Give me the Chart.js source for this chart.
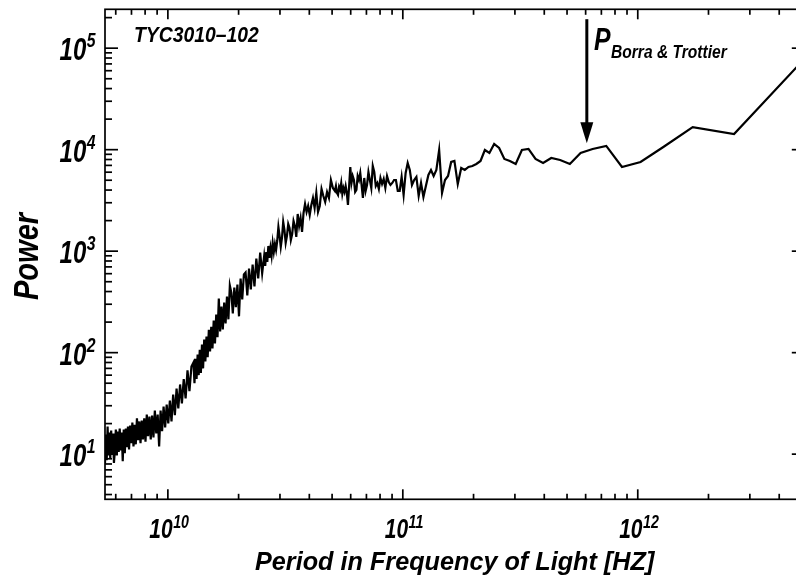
<!DOCTYPE html>
<html>
<head>
<meta charset="utf-8">
<script src="https://cdn.jsdelivr.net/npm/chart.js@4.4.1/dist/chart.umd.min.js"></script>
<style>
html,body{margin:0;padding:0;background:#fff;overflow:hidden;width:796px;height:579px}
#wrap{position:absolute;left:0;top:0;width:810px;height:579px}
</style>
</head>
<body>
<div id="wrap"><canvas id="c" width="810" height="579"></canvas></div>
<script>
// ---- data ----
const fundamentalHz = 5.14e12;            // frequency of harmonic 1 (right end of the axis)
const harmonicIndex = [
1,2,3,4,5,6,7,8,9,10,11,12,13,14,15,16,17,18,19,20,
21,22,23,24,25,26,27,28,29,30,31,32,33,34,35,36,37,38,39,40,
41,42,43,44,45,46,47,48,49,50,51,52,53,54,55,56,57,58,59,60,
61,62,63,64,65,66,67,68,69,70,71,72,73,74,75,76,77,78,79,80,
81,82,83,84,85,86,87,88,89,90,91,92,93,94,95,96,97,98,99,100,
102,104,106,108,110,112,114,116,118,120,122,124,126,128,130,132,134,136,138,140,
142,144,146,148,150,152,154,156,158,160,162,164,166,168,170,172,174,176,178,180,
182,184,186,188,190,192,194,196,198,200,
204,208,212,216,220,224,228,232,236,240,244,248,252,256,260,264,268,272,276,280,
284,288,292,296,300,304,308,312,316,320,324,328,332,336,340,344,348,352,356,360,
364,368,372,376,380,384,388,392,396,400,
408,416,424,432,440,448,456,464,472,480,488,496,504,512,520,528,536,544,552,560,
568,576,584,592,600,608,616,624,632,640,648,656,664,672,680,688,696,704,712,720,
728,736,744,752,760,768,776,784,792,800,808,816,824,832,840,848,856,864,872,880,
888,896,904,912,920,928,936,944,952];
const power = [
79300,14280,16700,10630,7565,6755,10880,10160,9280,7230,7915,8280,7395,8100,10160,9930,7230,7740,8100,10390,
11380,9280,9930,7740,7230,6910,6755,6310,6600,4592,7740,7565,5508,5028,3745,9930,6310,5508,6310,5635,
4388,3420,4698,3498,5383,5028,4489,6310,7395,5895,3578,5383,3918,3918,5028,5028,4698,4489,4806,5508,
4193,5144,4592,5262,4099,4698,4388,6030,6910,4193,5028,6030,4489,3918,5262,3343,4489,5895,5028,5508,
4009,3831,5028,5508,4698,6755,4388,2852,3745,4388,3831,4193,3661,4698,4009,4290,3578,3745,4388,3918,
4193,5028,3343,3831,3053,3498,4099,2788,2434,3745,2665,3343,2852,2274,2788,2434,2918,2379,1546,2124,
1772,2326,1380,1772,1985,1477,1289,1693,1854,1412,1204,1618,1940,1349,1100,1412,1731,1260,1027,1177,
982,1204,897,1075,857,1125,783,982,715,897,
605,969,540,846,450,738,420,674,367,616,589,335,537,228,469,280,438,244,391,458,
213,357,194,312,169,285,162,341,142,238,123,207,110,180,103,168,90,144,82,135,
70,120,63,107,60,96,55,87,50,80,
73,41.7,67,35.5,55,31.7,48.6,28.2,44.3,24.2,38.7,21.0,33.7,20.1,30.8,18.3,29.5,16.8,26.9,11.9,
24.5,16.0,26.9,14.6,24.0,14.0,23.4,15.0,24.5,13.3,22.5,14.0,21.4,12.8,21.0,13.7,22.5,12.5,19.5,11.9,
20.5,12.8,19.1,11.1,18.7,11.7,17.9,10.2,17.5,8.5,16.3,10.9,17.9,10.5,16.7,9.7,17.5,10.9,8.2,16.0,
10.0,17.1,9.1,16.3,9.7,18.7,8.7,15.6,8.1];
const xTickExponents = [10, 11, 12];
const yTickExponents = [1, 2, 3, 4, 5];
const xRange = [5.4e9, 5.14e12];
const yRange = [3.59, 2.416e5];
const starLabel = 'TYC3010\u2013102';
const markerLabel = 'P';
const markerSubLabel = 'Borra & Trottier';
const markerFreqHz = 6.07e11;
const markerTopPower = 1.93e5;
const markerTipPower = 1.16e4;
const markerHeadBasePower = 1.86e4;
const xTitle = 'Period in Frequency of Light [HZ]';
const yTitle = 'Power';

// ---- build ----
const points = harmonicIndex.map((n, i) => ({ x: fundamentalHz / n, y: power[i] })).reverse();

const FONT = '"Liberation Sans", Arial, Helvetica, sans-serif';
function txt(ctx, text, x, y, size, sx, align) {
  ctx.save();
  ctx.font = 'italic bold ' + size + 'px ' + FONT;
  const w = ctx.measureText(text).width * sx;
  let x0 = x;
  if (align === 'center') x0 = x - w / 2;
  else if (align === 'right') x0 = x - w;
  ctx.translate(x0, y);
  ctx.scale(sx, 1);
  ctx.textAlign = 'left';
  ctx.textBaseline = 'alphabetic';
  ctx.fillStyle = '#000';
  ctx.fillText(text, 0, 0);
  ctx.restore();
  return w;
}
function measure(ctx, text, size, sx) {
  ctx.save();
  ctx.font = 'italic bold ' + size + 'px ' + FONT;
  const w = ctx.measureText(text).width * sx;
  ctx.restore();
  return w;
}
function seg(ctx, x1, y1, x2, y2) {
  ctx.beginPath(); ctx.moveTo(x1, y1); ctx.lineTo(x2, y2); ctx.stroke();
}

const framePlugin = {
  id: 'frame',
  afterDraw(chart) {
    const ctx = chart.ctx, a = chart.chartArea, xs = chart.scales.x, ys = chart.scales.y;
    ctx.save();
    ctx.strokeStyle = '#000';
    ctx.lineWidth = 1.7;
    ctx.strokeRect(a.left, a.top, a.right - a.left, a.bottom - a.top);
    for (let e = 9; e <= 12; e++) {
      for (let m = 1; m <= 9; m++) {
        const v = m * Math.pow(10, e);
        if (v < xs.min || v > xs.max) continue;
        const px = xs.getPixelForValue(v);
        const len = m === 1 ? 10 : 5.5;
        seg(ctx, px, a.bottom, px, a.bottom - len);
        seg(ctx, px, a.top, px, a.top + len);
      }
    }
    for (let e = 0; e <= 5; e++) {
      for (let m = 1; m <= 9; m++) {
        const v = m * Math.pow(10, e);
        if (v < ys.min || v > ys.max) continue;
        const py = ys.getPixelForValue(v);
        const len = m === 1 ? 13 : 7;
        seg(ctx, a.left, py, a.left + len, py);
        seg(ctx, a.right, py, a.right - len, py);
      }
    }
    ctx.restore();

    xTickExponents.forEach(e => {
      const px = xs.getPixelForValue(Math.pow(10, e));
      const w1 = measure(ctx, '10', 28, 0.75), w2 = measure(ctx, String(e), 19, 0.75);
      const x0 = px + 1 - (w1 + w2) / 2;
      txt(ctx, '10', x0, 538, 28, 0.75, 'left');
      txt(ctx, String(e), x0 + w1 + 0.5, 528, 19, 0.75, 'left');
    });
    yTickExponents.forEach(e => {
      const py = ys.getPixelForValue(Math.pow(10, e));
      const w1 = measure(ctx, '10', 32, 0.75), w2 = measure(ctx, String(e), 21, 0.75);
      const x0 = 95 - (w1 + w2);
      txt(ctx, '10', x0, py + 12, 32, 0.75, 'left');
      txt(ctx, String(e), x0 + w1 + 0.5, py - 1, 21, 0.75, 'left');
    });
    txt(ctx, xTitle, 255, 570, 26, 0.97, 'left');
    ctx.save();
    ctx.translate(38.3, 256.5);
    ctx.rotate(-Math.PI / 2);
    txt(ctx, yTitle, 0, 0, 35, 0.83, 'center');
    ctx.restore();
    txt(ctx, starLabel, 134, 41.5, 22, 0.88, 'left');
    const ax = xs.getPixelForValue(markerFreqHz);
    const aTop = ys.getPixelForValue(markerTopPower);
    const aTip = ys.getPixelForValue(markerTipPower);
    const aBase = ys.getPixelForValue(markerHeadBasePower);
    ctx.save();
    ctx.strokeStyle = '#000'; ctx.fillStyle = '#000'; ctx.lineWidth = 3;
    seg(ctx, ax, aTop, ax, aBase + 1);
    ctx.beginPath();
    ctx.moveTo(ax - 6.5, aBase); ctx.lineTo(ax + 6.5, aBase); ctx.lineTo(ax, aTip); ctx.closePath();
    ctx.fill();
    ctx.restore();
    txt(ctx, markerLabel, 594, 50, 31, 0.8, 'left');
    txt(ctx, markerSubLabel, 611, 57.5, 18, 0.866, 'left');
  }
};

new Chart(document.getElementById('c').getContext('2d'), {
  type: 'line',
  data: {
    datasets: [{
      data: points,
      borderColor: '#000',
      borderWidth: 2.2,
      pointRadius: 0,
      tension: 0,
      fill: false
    }]
  },
  options: {
    responsive: false,
    animation: false,
    events: [],
    plugins: { legend: { display: false }, tooltip: { enabled: false } },
    layout: { padding: { left: 0, right: 5.2, top: 9.3, bottom: 0 } },
    scales: {
      x: {
        type: 'logarithmic', min: xRange[0], max: xRange[1], bounds: 'data',
        ticks: { display: false }, grid: { display: false }, border: { display: false },
        afterFit(s) { s.height = 79.7; }
      },
      y: {
        type: 'logarithmic', min: yRange[0], max: yRange[1], bounds: 'data',
        ticks: { display: false }, grid: { display: false }, border: { display: false },
        afterFit(s) { s.width = 105; }
      }
    }
  },
  plugins: [framePlugin]
});
</script>
</body>
</html>
